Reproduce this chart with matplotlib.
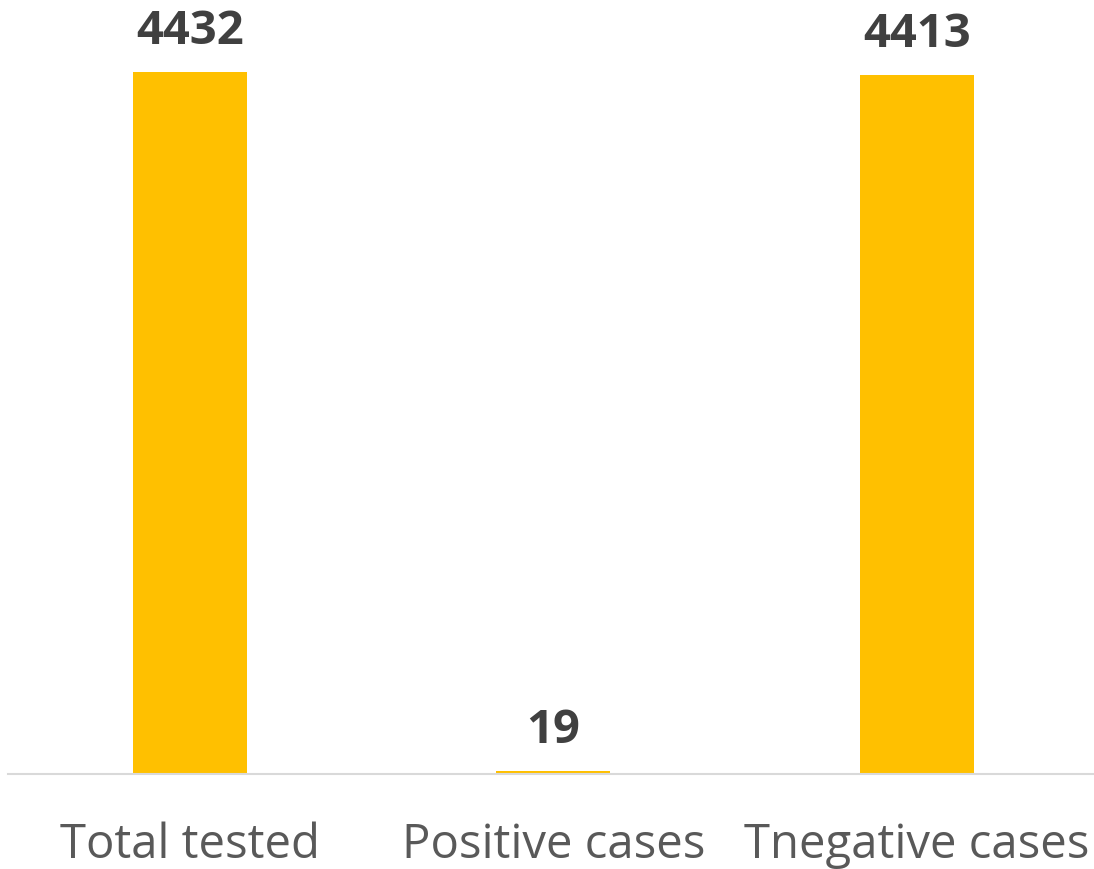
import matplotlib.pyplot as plt

# data
categories = ["Total tested", "Positive cases", "Tnegative cases"]
values = [4432, 19, 4413]

fig = plt.figure(figsize=(10.94, 8.69), dpi=100)
# axes placed so the baseline sits near the bottom and bars fill the height
ax = fig.add_axes([8.3 / 1094, 95 / 869, 1090 / 1094, 774 / 869])

x = range(len(categories))
ax.bar(x, values, width=0.314, color="#FFC000", zorder=2)

for xi, v in zip(x, values):
    ax.annotate(str(v), (xi, v), xytext=(0, 12), textcoords="offset points",
                ha="center", va="bottom", fontsize=34, fontweight="bold",
                color="#404040", family="Open Sans")

ax.set_xlim(-0.5, 2.5)
ax.set_ylim(0, 4432 * 774 / 702)
ax.set_xticks(list(x))
ax.set_xticklabels(categories, fontsize=34, color="#595959", family="Open Sans")
ax.tick_params(axis="x", length=0, pad=34)
ax.set_yticks([])

for s in ["top", "right", "left"]:
    ax.spines[s].set_visible(False)
ax.spines["bottom"].set_color("#D9D9D9")
ax.spines["bottom"].set_linewidth(1.5)
ax.set_facecolor("none")

plt.savefig("out.png", dpi=100)
plt.close()
